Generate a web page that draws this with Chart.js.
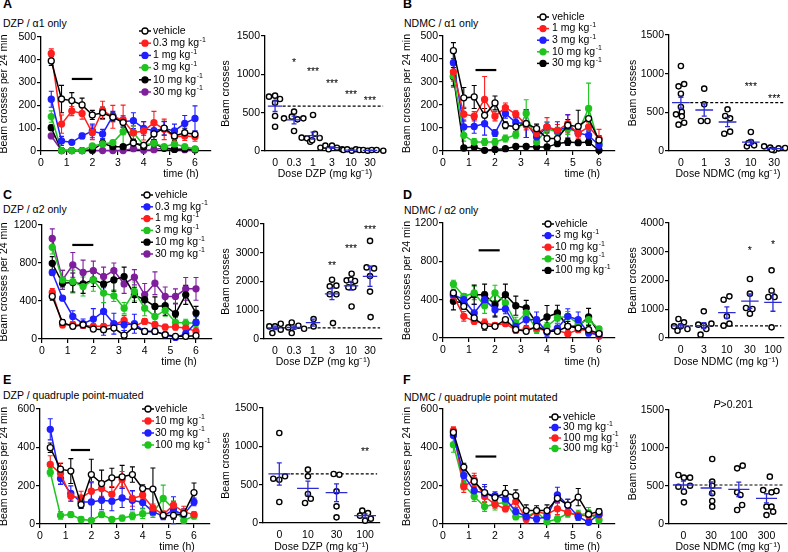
<!DOCTYPE html>
<html>
<head>
<meta charset="utf-8">
<script src="https://cdn.jsdelivr.net/npm/chart.js@4.4.0/dist/chart.umd.min.js"></script>
<style>
html, body { margin: 0; padding: 0; background: #fff; overflow: hidden; }
#fig { position: relative; width: 788px; height: 552px; font-family: "Liberation Sans", Arial, sans-serif; color: #000; }
#fig canvas { position: absolute; }
.let { position: absolute; font-size: 12.5px; font-weight: bold; line-height: 13px; }
.sub { position: absolute; font-size: 10.5px; line-height: 12px; white-space: nowrap; }
</style>
</head>
<body>
<div id="fig">
  <div class="let" style="left:3px;top:-2px">A</div>
  <div class="sub" style="left:3px;top:17px">DZP / α1 only</div>
  <div class="let" style="left:403px;top:-2px">B</div>
  <div class="sub" style="left:404px;top:17px">NDMC / α1 only</div>
  <div class="let" style="left:3px;top:189px">C</div>
  <div class="sub" style="left:3px;top:203px">DZP / α2 only</div>
  <div class="let" style="left:403px;top:189px">D</div>
  <div class="sub" style="left:404px;top:204px">NDMC / α2 only</div>
  <div class="let" style="left:3px;top:374px">E</div>
  <div class="sub" style="left:3px;top:389px">DZP / quadruple point-muated</div>
  <div class="let" style="left:403px;top:374px">F</div>
  <div class="sub" style="left:404px;top:391px">NDMC / quadruple point mutated</div>
</div>
<script>
// ---- time course data (beam crosses per 24 min) ----
const hours = [0.4, 0.8, 1.2, 1.6, 2.0, 2.4, 2.8, 3.2, 3.6, 4.0, 4.4, 4.8, 5.2, 5.6, 6.0];

const namesA = ['vehicle', '0.3 mg kg⁻¹', '1 mg kg⁻¹', '3 mg kg⁻¹', '10 mg kg⁻¹', '30 mg kg⁻¹'];
const meanA = [
  [395, 228, 221, 202, 158, 168, 148, 125, 35, 25, 75, 100, 66, 80, 73],
  [428, 118, 175, 165, 80, 178, 150, 136, 80, 88, 124, 95, 62, 66, 63],
  [227, 44, 38, 66, 88, 75, 154, 129, 133, 99, 89, 99, 88, 121, 143],
  [151, 2, 2, 2, 22, 31, 37, 85, 80, 26, 34, 19, 31, 19, 9],
  [102, 2, 2, 2, 4, 34, 19, 19, 37, 19, 34, 12, 7, 9, 7],
  [66, 2, 2, 2, 2, 2, 2, 2, 10, 3, 6, 14, 8, 6, 4]
];
const semA = [
  [20, 60, 35, 30, 20, 25, 20, 20, 15, 10, 25, 30, 20, 20, 15],
  [20, 40, 20, 25, 30, 40, 50, 65, 30, 40, 50, 45, 20, 20, 20],
  [35, 20, 8, 12, 30, 20, 20, 25, 35, 30, 25, 30, 30, 35, 55],
  [25, 3, 3, 3, 10, 10, 10, 60, 30, 10, 10, 8, 10, 8, 5],
  [12, 2, 2, 2, 3, 15, 8, 8, 15, 8, 15, 5, 4, 4, 4],
  [8, 2, 2, 2, 2, 2, 2, 2, 4, 2, 3, 5, 4, 3, 2]
];
const barAx = [1.2, 2.0], barAy = 316;

const namesB = ['vehicle', '1 mg kg⁻¹', '3 mg kg⁻¹', '10 mg kg⁻¹', '30 mg kg⁻¹'];
const meanB = [
  [436, 231, 235, 155, 209, 112, 105, 119, 97, 54, 54, 112, 107, 141, 47],
  [344, 160, 151, 224, 151, 189, 160, 112, 76, 105, 90, 119, 76, 105, 54],
  [384, 105, 107, 119, 78, 163, 124, 119, 61, 105, 87, 107, 78, 68, 25],
  [326, 68, 39, 39, 39, 54, 71, 163, 39, 97, 83, 97, 83, 185, 32],
  [323, 13, 17, 3, 7, 10, 20, 20, 17, 17, 32, 39, 36, 39, 3]
];
const semB = [
  [35, 45, 50, 30, 30, 15, 20, 60, 20, 25, 20, 25, 70, 40, 20],
  [40, 30, 20, 100, 20, 20, 15, 20, 10, 40, 25, 40, 20, 20, 40],
  [45, 30, 30, 50, 15, 20, 20, 60, 15, 20, 40, 50, 15, 20, 15],
  [50, 25, 15, 15, 15, 15, 15, 60, 10, 30, 20, 25, 15, 110, 15],
  [40, 5, 8, 3, 5, 5, 5, 5, 5, 5, 10, 15, 12, 15, 3]
];
const barBx = [1.25, 2.05], barBy = 352;

const namesC = ['vehicle', '0.3 mg kg⁻¹', '1 mg kg⁻¹', '3 mg kg⁻¹', '10 mg kg⁻¹', '30 mg kg⁻¹'];
const meanC = [
  [448, 175, 133, 150, 105, 98, 115, 40, 133, 80, 80, 45, 28, 28, 35],
  [700, 430, 238, 161, 210, 290, 161, 150, 161, 80, 80, 45, 17, 56, 175],
  [490, 150, 150, 143, 133, 133, 150, 196, 133, 185, 150, 126, 126, 115, 80],
  [965, 622, 605, 552, 622, 483, 455, 325, 500, 325, 238, 301, 175, 168, 168],
  [797, 587, 594, 580, 622, 580, 622, 657, 465, 413, 343, 350, 266, 465, 273],
  [1059, 622, 780, 700, 720, 657, 720, 580, 650, 465, 587, 448, 448, 528, 528]
];
const semC = [
  [40, 30, 25, 20, 20, 25, 20, 50, 30, 25, 25, 20, 10, 10, 15],
  [30, 20, 60, 50, 110, 250, 110, 60, 100, 30, 30, 20, 10, 20, 60],
  [40, 30, 30, 20, 30, 25, 25, 50, 30, 30, 30, 30, 30, 30, 20],
  [70, 100, 120, 100, 120, 100, 60, 60, 100, 80, 80, 60, 50, 40, 40],
  [70, 40, 100, 100, 70, 100, 120, 100, 80, 80, 100, 100, 110, 100, 70],
  [100, 100, 130, 130, 100, 100, 80, 100, 80, 120, 120, 100, 80, 120, 120]
];
const barCx = [1.18, 2.0], barCy = 990;

const namesD = ['vehicle', '3 mg kg⁻¹', '10 mg kg⁻¹', '30 mg kg⁻¹', '100 mg kg⁻¹'];
const meanD = [
  [470, 330, 209, 122, 122, 191, 87, 70, 122, 70, 70, 122, 104, 87, 45],
  [452, 400, 261, 400, 296, 303, 122, 191, 191, 59, 104, 226, 191, 52, 35],
  [442, 226, 174, 157, 132, 150, 80, 94, 104, 70, 80, 45, 87, 80, 17],
  [563, 435, 470, 337, 470, 365, 157, 261, 87, 122, 209, 226, 150, 191, 94],
  [383, 365, 452, 452, 348, 452, 337, 313, 157, 219, 261, 122, 122, 219, 52]
];
const semD = [
  [30, 30, 30, 40, 20, 20, 15, 15, 20, 15, 15, 20, 20, 20, 10],
  [40, 60, 90, 80, 80, 50, 60, 60, 80, 40, 50, 80, 80, 30, 20],
  [40, 50, 30, 40, 30, 20, 30, 20, 20, 20, 20, 20, 30, 20, 10],
  [40, 30, 70, 80, 80, 60, 60, 60, 40, 40, 60, 50, 40, 50, 20],
  [90, 50, 100, 110, 120, 110, 100, 80, 60, 120, 80, 50, 50, 90, 20]
];
const barDx = [1.37, 2.18], barDy = 915;

const namesE = ['vehicle', '10 mg kg⁻¹', '30 mg kg⁻¹', '100 mg kg⁻¹'];
const meanE = [
  [398, 286, 276, 101, 258, 211, 241, 246, 258, 185, 182, 45, 45, 54, 164],
  [311, 263, 145, 136, 171, 185, 155, 234, 133, 150, 84, 49, 98, 63, 49],
  [494, 237, 159, 115, 115, 124, 119, 136, 124, 112, 63, 42, 72, 49, 115],
  [269, 45, 49, 24, 19, 49, 24, 31, 42, 54, 59, 133, 80, 19, 42]
];
const semE = [
  [25, 30, 65, 20, 80, 70, 50, 60, 40, 20, 110, 20, 20, 15, 50],
  [45, 55, 25, 35, 50, 40, 40, 40, 40, 20, 20, 20, 20, 30, 15],
  [55, 30, 40, 30, 100, 50, 50, 50, 50, 30, 20, 20, 70, 30, 20],
  [20, 20, 15, 15, 10, 15, 10, 15, 20, 25, 25, 70, 40, 15, 15]
];
const barEx = [1.2, 1.95], barEy = 386;

const namesF = ['vehicle', '30 mg kg⁻¹', '100 mg kg⁻¹', '300 mg kg⁻¹'];
const meanF = [
  [478, 297, 222, 164, 138, 161, 148, 70, 70, 70, 134, 99, 140, 51, 65],
  [462, 253, 173, 161, 148, 131, 65, 38, 26, 38, 152, 99, 38, 9, 51],
  [487, 195, 230, 143, 103, 79, 117, 26, 65, 51, 79, 61, 44, 44, 47],
  [414, 204, 143, 91, 103, 113, 38, 38, 65, 12, 26, 56, 47, 56, 21]
];
const semF = [
  [20, 20, 30, 30, 20, 40, 30, 30, 25, 30, 20, 30, 45, 20, 15],
  [40, 30, 30, 45, 20, 20, 20, 20, 15, 20, 40, 30, 20, 10, 15],
  [20, 30, 35, 30, 20, 15, 30, 20, 20, 15, 30, 20, 20, 20, 15],
  [40, 25, 25, 25, 30, 20, 15, 15, 15, 10, 15, 20, 25, 30, 15]
];
const barFx = [1.25, 2.05], barFy = 352;

// ---- dose-response dots (total beam crosses); x = dose slot + jitter ----
const dosesA = ['0', '0.3', '1', '3', '10', '30'];
const dotAx = [-0.32, 0, 0.26, 0, 0, 0, 0.47, 0.88, 1, 1.18, 1.49, 1, 1.4, 1.68, 1.85, 2, 2.1, 2.35, 1.95,
  2.39, 2.65, 2.82, 3, 3.26, 3.53, 3.6, 3.8, 4.04, 4.26, 4.44, 4.65, 4.88, 5.09, 5.35, 5.7];
const dotAy = [709, 722, 678, 630, 457, 317, 426, 448, 513, 413, 426, 261, 174, 165, 120, 470, 225, 170, 140,
  43, 70, 22, 70, 43, 22, 13, 22, 4, 22, 13, 13, 4, 13, 13, 4];
const avgA = [585, 405, 200, 45, 12, 8];
const errA = [70, 50, 45, 10, 4, 3];
const starsA = ['*', '***', '***', '***', '***'], starAx = [1, 2, 3, 4, 5], starAy = [1170, 1055, 905, 752, 675];

const dosesB = ['0', '1', '3', '10', '30'];
const dotBx = [0, -0.1, 0.14, 0, 0, 0.04, -0.21, 0.04, -0.1, 0.14, 1, 1, 0.86, 1.14, 2, 1.9, 2.11, 1.86, 2.11,
  3, 2.83, 3.14, 3, 2.9, 3.57, 3.83, 4, 4.19, 4.47, 3.9];
const dotBy = [1099, 836, 866, 741, 569, 504, 474, 448, 341, 366, 806, 603, 388, 388, 539, 453, 422, 224, 250,
  246, 60, 73, 116, 103, 60, 43, 9, 34, 39, 17];
const avgB = [625, 530, 375, 115, 30];
const errB = [70, 80, 60, 30, 8];
const starsB = ['***', '***'], starBx = [3, 4], starBy = [853, 698];

const dosesC = ['0', '0.3', '1', '3', '10', '30'];
const dotCx = [-0.3, 0, 0.3, -0.14, 0.3, 0.7, 0.88, 0.88, 1.23, 1.53, 2.03, 2.03, 3, 2.88, 3.23, 2.88, 3.23, 3.05,
  4.03, 3.77, 4, 4.21, 3.86, 4.12, 4.03, 5, 4.82, 5.21, 5, 5, 5.03];
const dotCy = [438, 438, 530, 207, 323, 403, 576, 207, 461, 357, 692, 438, 2063, 1833, 1855, 1556, 1556, 553,
  2270, 2040, 2063, 2017, 1800, 1800, 1130, 3412, 2490, 2455, 2190, 1648, 761];
const avgC = [390, 400, 570, 1570, 1850, 2180];
const errC = [60, 60, 120, 200, 150, 350];
const starsC = ['**', '***', '***'], starCx = [3, 4, 5], starCy = [2605, 3180, 3840];

const dosesD = ['0', '3', '10', '30', '100'];
const dotDx = [-0.29, -0.1, 0.14, -0.14, 0, 0.29, 0.76, 1, 0.86, 1.11, 1, 1.33, 1.86, 2.11, 2, 1.86, 2.11,
  3, 3, 2.83, 3.11, 3, 3.94, 3.94, 3.8, 4.07, 3.94];
const dotDy = [406, 661, 545, 255, 406, 313, 464, 928, 116, 313, 429, 499, 1333, 1449, 754, 429, 499,
  2052, 1542, 1043, 1009, 846, 2354, 1646, 1426, 1426, 371];
const avgD = [420, 430, 880, 1280, 1240];
const errD = [60, 100, 200, 250, 310];
const starsD = ['*', '*'], starDx = [3, 4], starDy = [3107, 3304];

const dosesE = ['0', '10', '30', '100'];
const dotEx = [0, -0.21, 0, 0.2, 0, 1, 1, 1, 1.1, 0.9, 1.9, 2.1, 2, 2, 2, 2.9, 3.1, 2.82, 3.2, 3];
const dotEy = [1174, 578, 565, 609, 274, 696, 609, 378, 317, 261, 639, 630, 413, 217, 74, 161, 130, 96, 57, 30];
const avgE = [640, 452, 395, 95];
const errE = [145, 93, 115, 25];
const starsE = ['**'], starEx = [3], starEy = [957];

const dosesF = ['0', '30', '100', '300'];
const dotFx = [-0.18, 0.02, 0.24, -0.18, 0.24, 0.02, 0.02, 1.04, 1.04, 1.04, 1.04, 1.04, 1.04,
  1.94, 2.14, 1.94, 2.06, 2.12, 1.94, 3.12, 2.88, 3.18, 3.36, 3, 3.18, 3.24, 3];
const dotFy = [645, 610, 610, 491, 504, 425, 285, 855, 557, 504, 404, 303, 228,
  732, 768, 417, 382, 250, 184, 623, 447, 417, 434, 228, 228, 162, 118];
const avgF = [513, 474, 456, 338];
const errF = [50, 80, 95, 60];
const statF = ['P', '>0.201'], statFx = 1.8, statFy = 1570;

// ---- styles ----
const FONT = '"Liberation Sans", Arial, sans-serif';
const RED = '#ff1f1f', BLUE = '#1f1fff', GREEN = '#1fc41f', BLK = '#000000', PURP = '#7f1f9c';
const MEANBLUE = '#2c2cd2';
Chart.defaults.font.family = FONT;
Chart.defaults.font.size = 10.5;
Chart.defaults.color = '#000';

function mount(g) {
  const c = document.createElement('canvas');
  const left = g.axisX - g.ml;
  const right = g.right != null ? g.right : g.axisX + (g.x6 - g.axisX) * 6.6 / 6;
  const w = g.cellRight - left, h = g.bottom + g.mb + 2 - g.cellTop;
  c.width = w; c.height = h;
  c.style.left = left + 'px'; c.style.top = g.cellTop + 'px';
  c.style.width = w + 'px'; c.style.height = h + 'px';
  document.getElementById('fig').appendChild(c);
  return { c, left, top: g.cellTop, pad: { top: g.top - g.cellTop, right: g.cellRight - right, bottom: 2, left: 0 } };
}

function xAxis(min, max, ticks, mb, drawTicks, pad, title, align, cb) {
  return {
    type: 'linear', min, max,
    afterBuildTicks: s => { s.ticks = ticks.map(v => ({ value: v })); },
    afterFit: s => { s.height = mb; },
    grid: { drawOnChartArea: false, drawTicks, tickLength: 4, color: '#000', lineWidth: 1.2 },
    border: { color: '#000', width: 1.3 },
    ticks: { color: '#000', padding: pad, maxRotation: 0, autoSkip: false, callback: cb },
    title: { display: true, text: title, align, color: '#000', padding: 0 }
  };
}

function yAxis(max, ticks, ml, title) {
  return {
    type: 'linear', min: 0, max,
    afterBuildTicks: s => { s.ticks = ticks.map(v => ({ value: v })); },
    afterFit: s => { s.width = ml; },
    grid: { drawOnChartArea: false, tickLength: 4, color: '#000', lineWidth: 1.2 },
    border: { color: '#000', width: 1.3 },
    ticks: { color: '#000', padding: 1, callback: v => String(v) },
    title: { display: true, text: title, color: '#000', padding: 0 }
  };
}

// text with a trailing "⁻¹" drawn as a raised "-1"
function supText(ctx, text, x, y) {
  const sup = text.endsWith('⁻¹');
  const base = sup ? text.slice(0, -2) : text;
  ctx.font = '10.5px ' + FONT;
  ctx.textAlign = 'left'; ctx.textBaseline = 'middle';
  ctx.fillText(base, x, y);
  if (sup) {
    const w = ctx.measureText(base).width;
    ctx.font = '7px ' + FONT;
    ctx.fillText('-1', x + w + 0.5, y - 3.5);
  }
}

const errorBars = {
  id: 'errorBars',
  beforeDatasetsDraw(chart) {
    const { ctx } = chart, y = chart.scales.y;
    chart.data.datasets.forEach((ds, i) => {
      if (!ds.errors) return;
      const meta = chart.getDatasetMeta(i);
      ctx.save();
      ctx.strokeStyle = ds.borderColor; ctx.lineWidth = 1.1;
      meta.data.forEach((pt, j) => {
        const v = ds.data[j].y, e = ds.errors[j];
        const t = y.getPixelForValue(v + e), b = y.getPixelForValue(Math.max(0, v - e));
        ctx.beginPath();
        ctx.moveTo(pt.x, t); ctx.lineTo(pt.x, b);
        ctx.moveTo(pt.x - 2.5, t); ctx.lineTo(pt.x + 2.5, t);
        ctx.moveTo(pt.x - 2.5, b); ctx.lineTo(pt.x + 2.5, b);
        ctx.stroke();
      });
      ctx.restore();
    });
  }
};

function keyPlugin(m, key) {
  return {
    id: 'keyBox',
    afterDraw(chart) {
      const ctx = chart.ctx;
      const kx = key.x - m.left, tx = key.tx - m.left;
      let k = 0;
      chart.data.datasets.forEach(ds => {
        if (!ds.errors) return;
        const y = key.y - m.top + k * key.dy; k++;
        ctx.save();
        ctx.strokeStyle = ds.borderColor; ctx.lineWidth = 1.5;
        ctx.beginPath(); ctx.moveTo(kx - 6, y); ctx.lineTo(kx + 6, y); ctx.stroke();
        ctx.beginPath(); ctx.arc(kx, y, 3, 0, Math.PI * 2);
        ctx.fillStyle = ds.pointBackgroundColor; ctx.fill();
        ctx.lineWidth = 1.3; ctx.stroke();
        ctx.fillStyle = '#000';
        supText(ctx, ds.label, tx, y);
        ctx.restore();
      });
    }
  };
}

function lineChart(g, names, means, sems, colors, barX, barY, yMax, yTicks, key, tail) {
  const m = mount(g);
  const datasets = means.map((vals, i) => ({
    label: names[i],
    data: hours.map((h, j) => ({ x: h, y: vals[j] })),
    errors: sems[i],
    borderColor: colors[i], backgroundColor: colors[i],
    pointBorderColor: colors[i], pointBackgroundColor: i === 0 ? '#fff' : colors[i],
    borderWidth: 1.5, pointRadius: 3, pointBorderWidth: 1.3, tension: 0, clip: false
  }));
  datasets.push({
    label: '', data: barX.map(x => ({ x, y: barY })),
    borderColor: '#000', borderWidth: 2.2, pointRadius: 0, clip: false
  });
  new Chart(m.c, {
    type: 'line',
    data: { datasets },
    options: {
      responsive: false, animation: false, devicePixelRatio: 1,
      layout: { autoPadding: false, padding: m.pad },
      plugins: { legend: { display: false }, tooltip: { enabled: false } },
      scales: {
        x: xAxis(0, 6.6, [0, 1, 2, 3, 4, 5, 6], g.mb, true, 2, 'time (h)' + tail, 'end', v => String(v)),
        y: yAxis(yMax, yTicks, g.ml, 'Beam crosses per 24 min')
      }
    },
    plugins: [errorBars, keyPlugin(m, key)]
  });
}

function dotChart(g, doses, xs, ys, avg, err, stars, sx, sy, xMin, xMax, yMax, yTicks, title, stat) {
  const m = mount(g);
  const dashEnd = xMax - 0.1;
  const stats = {
    id: 'dotStats',
    afterDatasetsDraw(chart) {
      const { ctx } = chart, x = chart.scales.x, y = chart.scales.y;
      ctx.save();
      ctx.strokeStyle = MEANBLUE; ctx.lineWidth = 1.3;
      avg.forEach((mv, i) => {
        const cx = x.getPixelForValue(i), hw = x.getPixelForValue(i + 0.38) - cx;
        const py = y.getPixelForValue(mv);
        const t = y.getPixelForValue(mv + err[i]), b = y.getPixelForValue(mv - err[i]);
        ctx.beginPath();
        ctx.moveTo(cx - hw, py); ctx.lineTo(cx + hw, py);
        ctx.moveTo(cx, t); ctx.lineTo(cx, b);
        ctx.moveTo(cx - 2.5, t); ctx.lineTo(cx + 2.5, t);
        ctx.moveTo(cx - 2.5, b); ctx.lineTo(cx + 2.5, b);
        ctx.stroke();
      });
      ctx.fillStyle = '#000'; ctx.textAlign = 'center'; ctx.textBaseline = 'middle';
      ctx.font = '10.5px ' + FONT;
      stars.forEach((s, i) => ctx.fillText(s, x.getPixelForValue(sx[i]), y.getPixelForValue(sy[i]) + 2));
      if (stat) {
        const px = x.getPixelForValue(stat.x), py = y.getPixelForValue(stat.y);
        ctx.font = 'italic 10.5px ' + FONT;
        const w1 = ctx.measureText(stat.text[0]).width;
        ctx.font = '10.5px ' + FONT;
        const w2 = ctx.measureText(stat.text[1]).width;
        ctx.textAlign = 'left';
        const x0 = px - (w1 + w2) / 2;
        ctx.font = 'italic 10.5px ' + FONT; ctx.fillText(stat.text[0], x0, py);
        ctx.font = '10.5px ' + FONT; ctx.fillText(stat.text[1], x0 + w1, py);
      }
      ctx.restore();
    }
  };
  new Chart(m.c, {
    type: 'scatter',
    data: {
      datasets: [
        {
          data: xs.map((v, i) => ({ x: v, y: ys[i] })),
          pointRadius: 2.6, pointBorderWidth: 1.4, pointBorderColor: '#000',
          pointBackgroundColor: '#fff', clip: false
        },
        {
          data: [{ x: 0.4, y: avg[0] }, { x: dashEnd, y: avg[0] }], showLine: true,
          borderColor: '#000', borderWidth: 1.2, borderDash: [3, 2], pointRadius: 0, clip: false
        }
      ]
    },
    options: {
      responsive: false, animation: false, devicePixelRatio: 1,
      layout: { autoPadding: false, padding: m.pad },
      plugins: { legend: { display: false }, tooltip: { enabled: false } },
      scales: {
        x: xAxis(xMin, xMax, doses.map((d, i) => i), g.mb, false, 6, title, 'center', v => doses[Math.round(v)]),
        y: yAxis(yMax, yTicks, g.ml, 'Beam crosses')
      }
    },
    plugins: [stats]
  });
}

const t500 = [0, 100, 200, 300, 400, 500], t1200 = [0, 400, 800, 1200], t600 = [0, 200, 400, 600];
const t1500 = [0, 500, 1000, 1500], t4000 = [0, 1000, 2000, 3000, 4000];
const sp = '     ';

lineChart({ axisX: 41, top: 37, bottom: 151, x6: 195, ml: 43, mb: 29, cellTop: 0, cellRight: 222 },
  namesA, meanA, semA, [BLK, RED, BLUE, GREEN, BLK, PURP], barAx, barAy, 500, t500,
  { x: 145, y: 31, dy: 12.2, tx: 153 }, '    ');
dotChart({ axisX: 265, top: 36, bottom: 151, right: 385, ml: 45, mb: 29, cellTop: 0, cellRight: 395 },
  dosesA, dotAx, dotAy, avgA, errA, starsA, starAx, starAy, -0.53, 5.79, 1500, t1500, 'Dose DZP (mg kg⁻¹)');

lineChart({ axisX: 443, top: 36, bottom: 151, x6: 599, ml: 42, mb: 29, cellTop: 0, cellRight: 630 },
  namesB, meanB, semB, [BLK, RED, BLUE, GREEN, BLK], barBx, barBy, 500, t500,
  { x: 543, y: 17, dy: 11.6, tx: 552 }, sp);
dotChart({ axisX: 669, top: 35, bottom: 151, right: 787, ml: 42, mb: 29, cellTop: 0, cellRight: 788 },
  dosesB, dotBx, dotBy, avgB, errB, starsB, starBx, starBy, -0.51, 4.55, 1500, t1500, 'Dose NDMC (mg kg⁻¹)');

lineChart({ axisX: 42, top: 225, bottom: 339, x6: 196, ml: 44, mb: 29, cellTop: 182, cellRight: 222 },
  namesC, meanC, semC, [BLK, BLUE, RED, GREEN, BLK, PURP], barCx, barCy, 1200, t1200,
  { x: 147, y: 195, dy: 11.8, tx: 155 }, sp);
dotChart({ axisX: 264, top: 224, bottom: 339, right: 382, ml: 44, mb: 29, cellTop: 182, cellRight: 395 },
  dosesC, dotCx, dotCy, avgC, errC, starsC, starCx, starCy, -0.58, 5.63, 4000, t4000, 'Dose DZP (mg kg⁻¹)');

lineChart({ axisX: 443, top: 223, bottom: 338, x6: 599, ml: 42, mb: 30, cellTop: 182, cellRight: 630 },
  namesD, meanD, semD, [BLK, BLUE, RED, GREEN, BLK], barDx, barDy, 1200, t1200,
  { x: 548, y: 224, dy: 11.6, tx: 555 }, sp);
dotChart({ axisX: 669, top: 223, bottom: 338, right: 785, ml: 42, mb: 30, cellTop: 182, cellRight: 788 },
  dosesD, dotDx, dotDy, avgD, errD, starsD, starDx, starDy, -0.51, 4.46, 4000, t4000, 'Dose NDMC (mg kg⁻¹)');

lineChart({ axisX: 40, top: 409, bottom: 524, x6: 194, ml: 42, mb: 29, cellTop: 365, cellRight: 222 },
  namesE, meanE, semE, [BLK, RED, BLUE, GREEN], barEx, barEy, 600, t600,
  { x: 148, y: 409, dy: 12, tx: 155 }, sp);
dotChart({ axisX: 263, top: 408, bottom: 523, right: 380, ml: 43, mb: 30, cellTop: 365, cellRight: 395 },
  dosesE, dotEx, dotEy, avgE, errE, starsE, starEx, starEy, -0.57, 3.52, 1500, t1500, 'Dose DZP (mg kg⁻¹)');

lineChart({ axisX: 443, top: 409, bottom: 524, x6: 599, ml: 42, mb: 29, cellTop: 365, cellRight: 630 },
  namesF, meanF, semF, [BLK, BLUE, RED, GREEN], barFx, barFy, 600, t600,
  { x: 555, y: 417, dy: 10.5, tx: 563 }, sp);
dotChart({ axisX: 669, top: 410, bottom: 524, right: 787, ml: 42, mb: 29, cellTop: 365, cellRight: 788 },
  dosesF, dotFx, dotFy, avgF, errF, [], [], [], -0.52, 3.74, 1500, t1500, 'Dose NDMC (mg kg⁻¹)',
  { text: statF, x: statFx, y: statFy });
</script>
</body>
</html>
